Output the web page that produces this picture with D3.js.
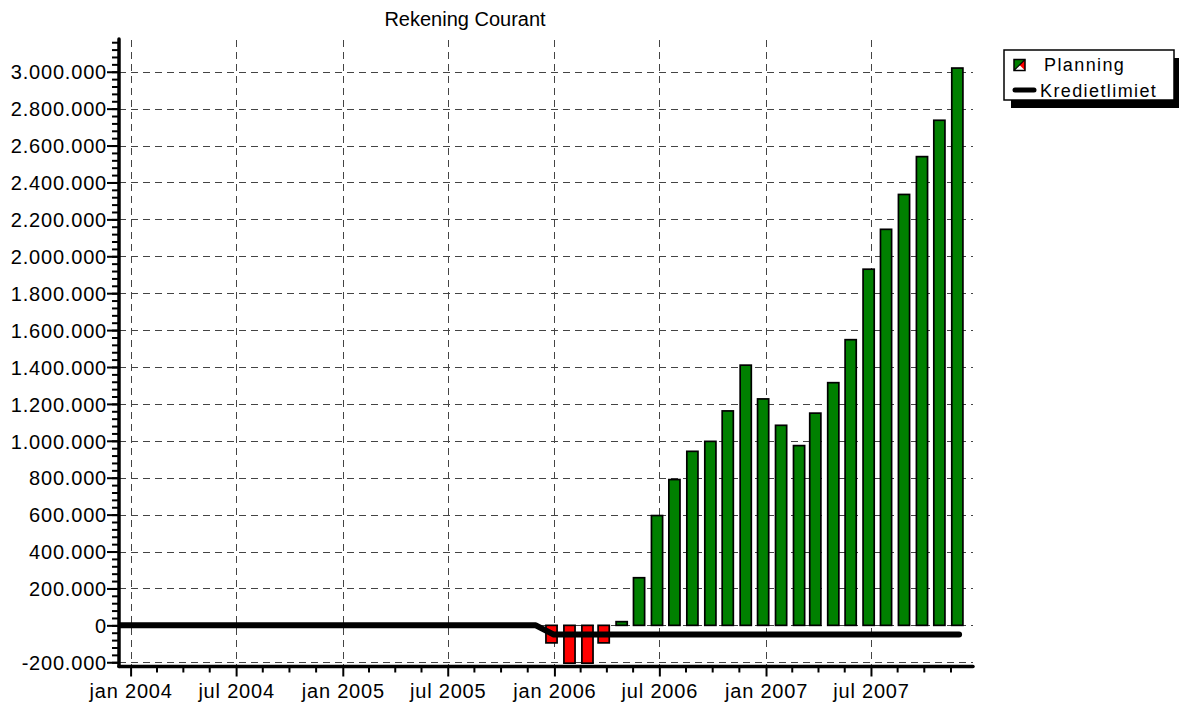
<!DOCTYPE html>
<html>
<head>
<meta charset="utf-8">
<script src="https://cdn.jsdelivr.net/npm/d3@7"></script>
<style>
  body { margin: 0; background: #fff; }
  svg { display: block; font-family: "Liberation Sans", Arial, sans-serif; }
</style>
</head>
<body>
<svg width="1179" height="706"></svg>
<script>
// data
var barMonths = ["2005-12","2006-01","2006-02","2006-03","2006-04","2006-05","2006-06","2006-07",
  "2006-08","2006-09","2006-10","2006-11","2006-12","2007-01","2007-02","2007-03","2007-04",
  "2007-05","2007-06","2007-07","2007-08","2007-09","2007-10","2007-11"];
var planValues = [-95000, -205000, -205000, -95000, 20000, 258000, 595000, 790000,
  943000, 997000, 1162000, 1410000, 1227000, 1084000, 974000, 1150000, 1315000,
  1548000, 1930000, 2146000, 2335000, 2540000, 2737000, 3020000];

var limitMonths = ["2003-11","2003-12",
  "2004-01","2004-02","2004-03","2004-04","2004-05","2004-06","2004-07","2004-08","2004-09","2004-10","2004-11","2004-12",
  "2005-01","2005-02","2005-03","2005-04","2005-05","2005-06","2005-07","2005-08","2005-09","2005-10","2005-11","2005-12",
  "2006-01","2006-02","2006-03","2006-04","2006-05","2006-06","2006-07","2006-08","2006-09","2006-10","2006-11","2006-12",
  "2007-01","2007-02","2007-03","2007-04","2007-05","2007-06","2007-07","2007-08","2007-09","2007-10","2007-11"];
var limitValues = [0, 0,
  0, 0, 0, 0, 0, 0, 0, 0, 0, 0, 0, 0,
  0, 0, 0, 0, 0, 0, 0, 0, 0, 0, 0, -50000,
  -50000, -50000, -50000, -50000, -50000, -50000, -50000, -50000, -50000, -50000, -50000, -50000,
  -50000, -50000, -50000, -50000, -50000, -50000, -50000, -50000, -50000, -50000, -50000];

var yTicks = [-200000, 0, 200000, 400000, 600000, 800000, 1000000, 1200000, 1400000, 1600000,
  1800000, 2000000, 2200000, 2400000, 2600000, 2800000, 3000000];
var xTickDates = ["2004-01-01","2004-07-01","2005-01-01","2005-07-01","2006-01-01","2006-07-01","2007-01-01","2007-07-01"];
var xTickLabels = ["jan 2004","jul 2004","jan 2005","jul 2005","jan 2006","jul 2006","jan 2007","jul 2007"];

var title = "Rekening Courant";
var seriesNames = ["Planning", "Kredietlimiet"];

var posColor = "#008000", negColor = "#ff0000";

var svg = d3.select("svg");
var pLeft = 119, pRight = 973, pTop = 40, pBottom = 666.5;

var parseMonth = d3.timeParse("%Y-%m");
var parseDay = d3.timeParse("%Y-%m-%d");

var x = d3.scaleTime()
  .domain([new Date(2003, 11, 12), new Date(2007, 11, 24)])
  .range([pLeft, pRight]);

var y = d3.scaleLinear()
  .domain([-223000, 3172000])
  .range([pBottom, pTop]);

var nl = d3.formatLocale({decimal: ",", thousands: ".", grouping: [3], currency: ["", ""], minus: "-"});
var fmt = nl.format(",d");

svg.append("defs").append("clipPath").attr("id", "plot")
  .append("rect").attr("x", pLeft + 1).attr("y", pTop).attr("width", pRight - pLeft).attr("height", pBottom - pTop);

// grid
var grid = svg.append("g").attr("stroke", "#444").attr("stroke-width", 1).attr("stroke-dasharray", "7,5");
grid.selectAll(".gx").data(xTickDates).enter().append("line")
  .attr("x1", d => Math.round(x(parseDay(d))) + 0.5).attr("x2", d => Math.round(x(parseDay(d))) + 0.5)
  .attr("y1", pTop).attr("y2", pBottom);
grid.selectAll(".gy").data(yTicks).enter().append("line")
  .attr("x1", pLeft).attr("x2", pRight)
  .attr("y1", d => Math.round(y(d)) + 0.5).attr("y2", d => Math.round(y(d)) + 0.5);

// bars
var band = x(new Date(2006, 1, 1)) - x(new Date(2006, 0, 1));
var barW = band * 0.62;
var barDate = function(m) { var d = parseMonth(m); return new Date(d.getFullYear(), d.getMonth(), 27); };

svg.append("g").attr("clip-path", "url(#plot)")
  .selectAll("rect").data(planValues).enter().append("rect")
    .attr("x", (d, i) => x(barDate(barMonths[i])) - barW / 2)
    .attr("y", d => y(Math.max(0, d)))
    .attr("width", barW)
    .attr("height", d => Math.abs(y(d) - y(0)))
    .attr("fill", d => d < 0 ? negColor : posColor)
    .attr("stroke", "#000")
    .attr("stroke-width", 1.7);

// kredietlimiet line
var monthEnd = function(m) { var d = parseMonth(m); return new Date(d.getFullYear(), d.getMonth() + 1, 0); };
var line = d3.line()
  .x((d, i) => x(monthEnd(limitMonths[i])))
  .y(d => y(d));

svg.append("g").attr("clip-path", "url(#plot)")
  .append("path")
    .datum(limitValues)
    .attr("d", line)
    .attr("fill", "none")
    .attr("stroke", "#000")
    .attr("stroke-width", 6)
    .attr("stroke-linejoin", "round")
    .attr("stroke-linecap", "round");

// y axis
var yMinor = d3.range(-200000, 3172000, 40000);
svg.append("g")
  .attr("transform", "translate(" + pLeft + ",0)")
  .call(d3.axisLeft(y).tickValues(yMinor).tickSize(7).tickFormat(""))
  .call(g => g.select(".domain").remove())
  .selectAll("line").attr("stroke-width", 2);

var yAxis = svg.append("g")
  .attr("transform", "translate(" + pLeft + ",0)")
  .call(d3.axisLeft(y).tickValues(yTicks).tickSize(12).tickPadding(0).tickFormat(fmt));
yAxis.select(".domain").remove();
yAxis.selectAll("line").attr("stroke-width", 2);
yAxis.selectAll("text")
  .attr("font-size", 20)
  .attr("letter-spacing", 0.8)
  .attr("dy", "0.36em")
  .attr("fill", "#000");
yAxis.attr("font-size", null).attr("font-family", null);

// x axis
var majorX = xTickDates.map(d => x(parseDay(d)));
majorX.push(x(new Date(2008, 0, 1)));
var minorX = [];
for (var i = 0; i < majorX.length - 1; i++) {
  for (var k = 1; k < 4; k++) minorX.push(majorX[i] + (majorX[i + 1] - majorX[i]) * k / 4);
}
minorX = minorX.filter(v => v < pRight - 4);

svg.append("g").selectAll("line").data(minorX).enter().append("line")
  .attr("x1", d => d).attr("x2", d => d)
  .attr("y1", pBottom).attr("y2", pBottom + 6)
  .attr("stroke", "#000").attr("stroke-width", 2);

var xAxis = svg.append("g")
  .attr("transform", "translate(0," + pBottom + ")")
  .call(d3.axisBottom(x).tickValues(xTickDates.map(parseDay)).tickSize(10).tickPadding(7)
    .tickFormat((d, i) => xTickLabels[i]));
xAxis.select(".domain").remove();
xAxis.selectAll("line").attr("stroke-width", 2);
xAxis.selectAll("text")
  .attr("font-size", 20)
  .attr("letter-spacing", 0.8)
  .attr("fill", "#000");
xAxis.attr("font-size", null).attr("font-family", null);

// axis lines
svg.append("line")
  .attr("x1", pLeft).attr("x2", pLeft).attr("y1", pTop - 1).attr("y2", pBottom)
  .attr("stroke", "#000").attr("stroke-width", 3.5).attr("stroke-linecap", "round");
svg.append("line")
  .attr("x1", pLeft).attr("x2", pRight).attr("y1", pBottom).attr("y2", pBottom)
  .attr("stroke", "#000").attr("stroke-width", 3.5).attr("stroke-linecap", "round");

// title
svg.append("text")
  .attr("x", 465).attr("y", 26)
  .attr("text-anchor", "middle")
  .attr("font-size", 20)
  .text(title);

// legend
var lg = svg.append("g").attr("transform", "translate(1004,50)");
lg.append("rect").attr("x", 7).attr("y", 8).attr("width", 170).attr("height", 50).attr("fill", "#000");
lg.append("rect").attr("x", 0).attr("y", 0).attr("width", 170).attr("height", 50)
  .attr("fill", "#fff").attr("stroke", "#000").attr("stroke-width", 1.5);
lg.append("path").attr("d", "M10,9.5h11v11z").attr("fill", negColor);
lg.append("path").attr("d", "M10,9.5h11l-11,11z").attr("fill", posColor);
lg.append("rect").attr("x", 10).attr("y", 9.5).attr("width", 11).attr("height", 11)
  .attr("fill", "none").attr("stroke", "#000").attr("stroke-width", 1.5);
lg.append("line").attr("x1", 10).attr("y1", 20.5).attr("x2", 21).attr("y2", 9.5)
  .attr("stroke", "#000").attr("stroke-width", 1.2);
lg.append("line").attr("x1", 11).attr("x2", 30).attr("y1", 40).attr("y2", 40)
  .attr("stroke", "#000").attr("stroke-width", 5).attr("stroke-linecap", "round");
lg.selectAll("text.lt").data(seriesNames).enter().append("text")
  .attr("class", "lt")
  .attr("x", (d, i) => i === 0 ? 40 : 36)
  .attr("y", (d, i) => i === 0 ? 20.5 : 46.5)
  .attr("font-size", 18)
  .attr("letter-spacing", 1.4)
  .text(d => d);
</script>
</body>
</html>
